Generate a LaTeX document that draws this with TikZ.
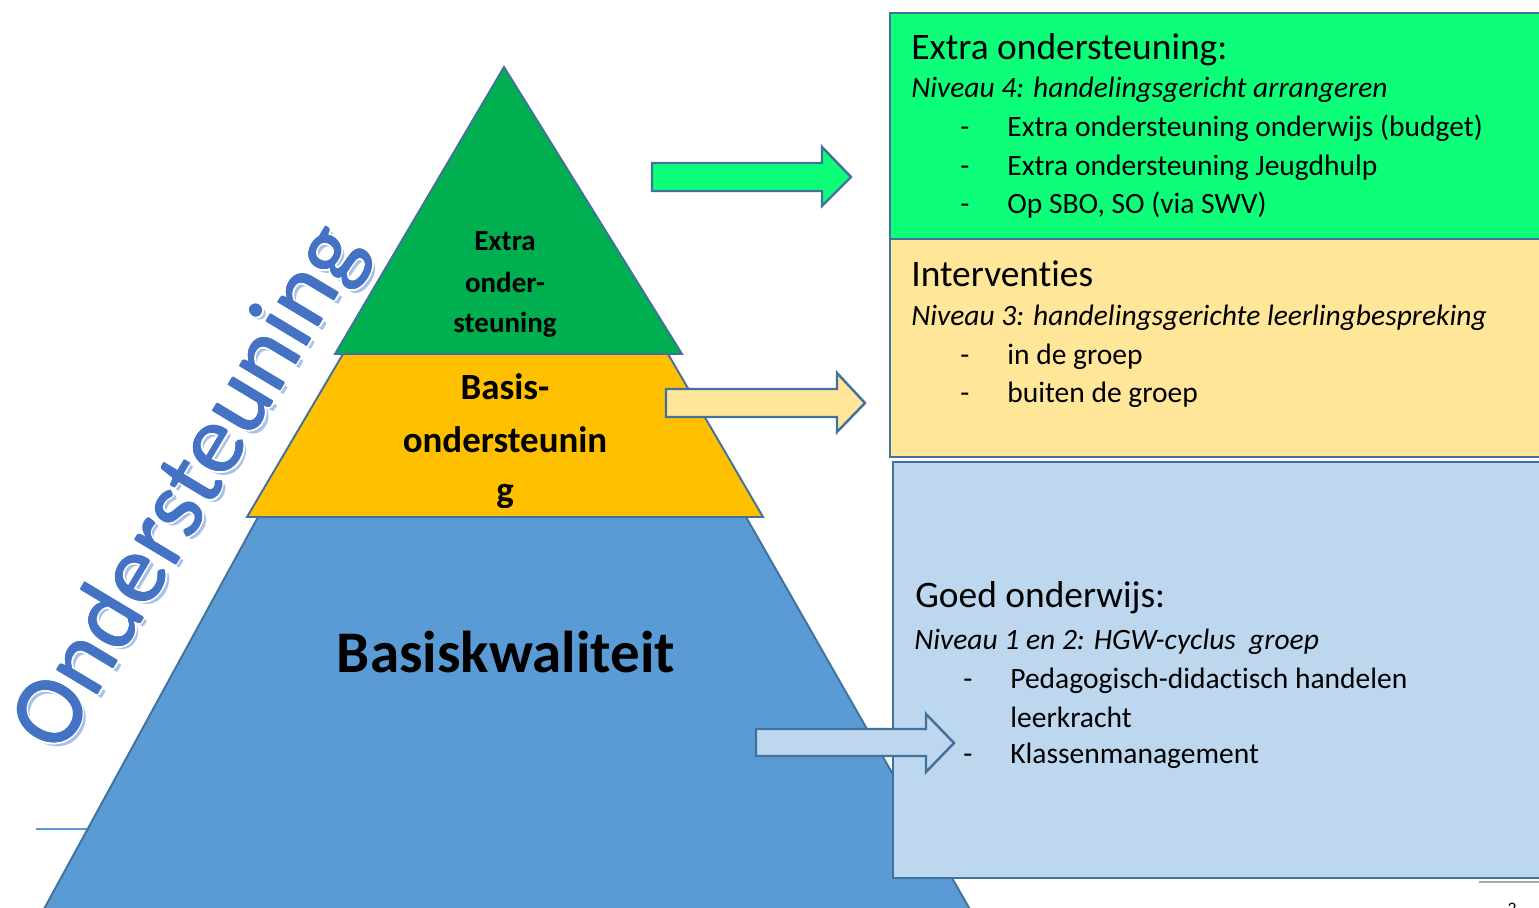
\documentclass[tikz,border=0pt]{standalone}
\usepackage{fontspec}
\setmainfont{Carlito}[Ligatures=NoCommon]
\definecolor{lijn}{HTML}{41719C}
\definecolor{groen}{HTML}{00B050}
\definecolor{geel}{HTML}{FFC000}
\definecolor{blauw}{HTML}{5B9BD5}
\definecolor{lichtgroen}{HTML}{0DFF7A}
\definecolor{lichtgeel}{HTML}{FFE699}
\definecolor{lichtblauw}{HTML}{BDD7EE}
\definecolor{tekstblauw}{HTML}{4472C4}
\definecolor{schaduw}{HTML}{A9C0E8}

\begin{document}
\begin{tikzpicture}[x=0.02cm, y=-0.02cm]
\tikzset{laag/.style={draw=lijn, line width=1.1pt},
  pijl/.style={draw=lijn, line width=1.4pt, line join=miter},
  regel/.style={anchor=base west, inner sep=0pt, font=\fontsize{16.8}{20}\selectfont},
  schuin/.style={anchor=base west, inner sep=0pt, font=\fontsize{16.8}{20}\selectfont\itshape},
  kop/.style={anchor=base west, inner sep=0pt, font=\fontsize{21.3}{25}\selectfont},
  midden/.style={anchor=base, inner sep=0pt, font=\fontsize{16.5}{20}\selectfont\bfseries},
  groot/.style={anchor=base, inner sep=0pt, font=\fontsize{21}{25}\selectfont\bfseries},
  schuintekst/.style={rotate=59, inner sep=0pt, font=\fontsize{56}{60}\selectfont}}
\clip (0,0) rectangle (1539,908);
% lijntje links
\draw[blauw, line width=1.2pt] (36,829) -- (90,829);
% piramide
\draw[laag, fill=blauw] (258,517) -- (746,517) -- (976,920) -- (38,920) -- cycle;
\draw[laag, fill=geel] (343,354) -- (668,354) -- (763,517) -- (247,517) -- cycle;
\draw[laag, fill=groen] (504,67) -- (682,354) -- (335,354) -- cycle;
% vakken rechts
\draw[laag, fill=lichtgroen] (890,13) rectangle (1560,239);
\draw[laag, fill=lichtgeel] (890,239) rectangle (1560,457);
\draw[laag, fill=lichtblauw] (893,462) rectangle (1560,878);
\draw[black!35, line width=1.7pt] (1479,882) -- (1539,882);
% pijlen
\draw[pijl, fill=lichtgroen] (652,163) -- (822,163) -- (822,147) -- (851,177) -- (822,206) -- (822,191) -- (652,191) -- cycle;
\draw[pijl, fill=lichtgeel] (666,389) -- (837,389) -- (837,373) -- (865,403) -- (837,432) -- (837,417) -- (666,417) -- cycle;
\draw[pijl, fill=lichtblauw] (756,729) -- (926,729) -- (926,714) -- (954,743) -- (926,772) -- (926,756) -- (756,756) -- cycle;
% Ondersteuning
\node[schuintekst, schaduw] (O0) at (195,493) {Ondersteuning};
\foreach \h [count=\i] in {0,45,...,315}
  \node[schuintekst, white, shift={(\h:2.5)}] (W\i) at (191,489) {Ondersteuning};
\foreach \h [count=\i] in {0,90,180,270}
  \node[schuintekst, tekstblauw, shift={(\h:0.6)}] (B\i) at (191,489) {Ondersteuning};
\node[schuintekst, tekstblauw] (O1) at (191,489) {Ondersteuning};
% piramide teksten
\node[midden] (T1) at (505,251) {Extra};
\node[midden] (T2) at (505,293) {onder-};
\node[midden] (T3) at (505,333) {steuning};
\node[groot] (T4) at (505,400) {Basis-};
\node[groot] (T5) at (505,453) {ondersteunin};
\begin{scope}
\clip (450,470) rectangle (560,508);
\node[groot] (T6) at (505,503) {g};
\end{scope}
\node[anchor=base, inner sep=0pt, font=\fontsize{33.6}{38}\selectfont\bfseries] (T7) at (506,673) {Basiskwaliteit};
% niveau 4
\node[kop] (A1) at (911,60) {Extra ondersteuning:};
\node[schuin] (A2) at (911,98) {Niveau 4: handelingsgericht arrangeren};
\node[regel] (S1) at (960,137) {-};
\node[regel] (A3) at (1007,137) {Extra ondersteuning onderwijs (budget)};
\node[regel] (S2) at (960,176) {-};
\node[regel] (A4) at (1007,176) {Extra ondersteuning Jeugdhulp};
\node[regel] (S3) at (960,214) {-};
\node[regel] (A5) at (1007,214) {Op SBO, SO (via SWV)};
% niveau 3
\node[kop] (B1) at (911,287) {Interventies};
\node[schuin] (B2) at (911,326) {Niveau 3: handelingsgerichte leerlingbespreking};
\node[regel] (S4) at (960,365) {-};
\node[regel] (B3) at (1007,365) {in de groep};
\node[regel] (S5) at (960,403) {-};
\node[regel] (B4) at (1007,403) {buiten de groep};
% niveau 1 en 2
\node[kop] (C1) at (915,608) {Goed onderwijs:};
\node[schuin] (C2) at (914,650) {Niveau 1 en 2: HGW-cyclus~ groep};
\node[regel] (S6) at (963,688) {-};
\node[regel] (C3) at (1010,688) {Pedagogisch-didactisch handelen};
\node[regel] (C4) at (1010,727) {leerkracht};
\node[regel] (S7) at (963,764) {-};
\node[regel] (C5) at (1010,764) {Klassenmanagement};
\node[anchor=base, inner sep=0pt, font=\fontsize{10}{12}\selectfont] (P) at (1512,914) {2};
\end{tikzpicture}
\end{document}
